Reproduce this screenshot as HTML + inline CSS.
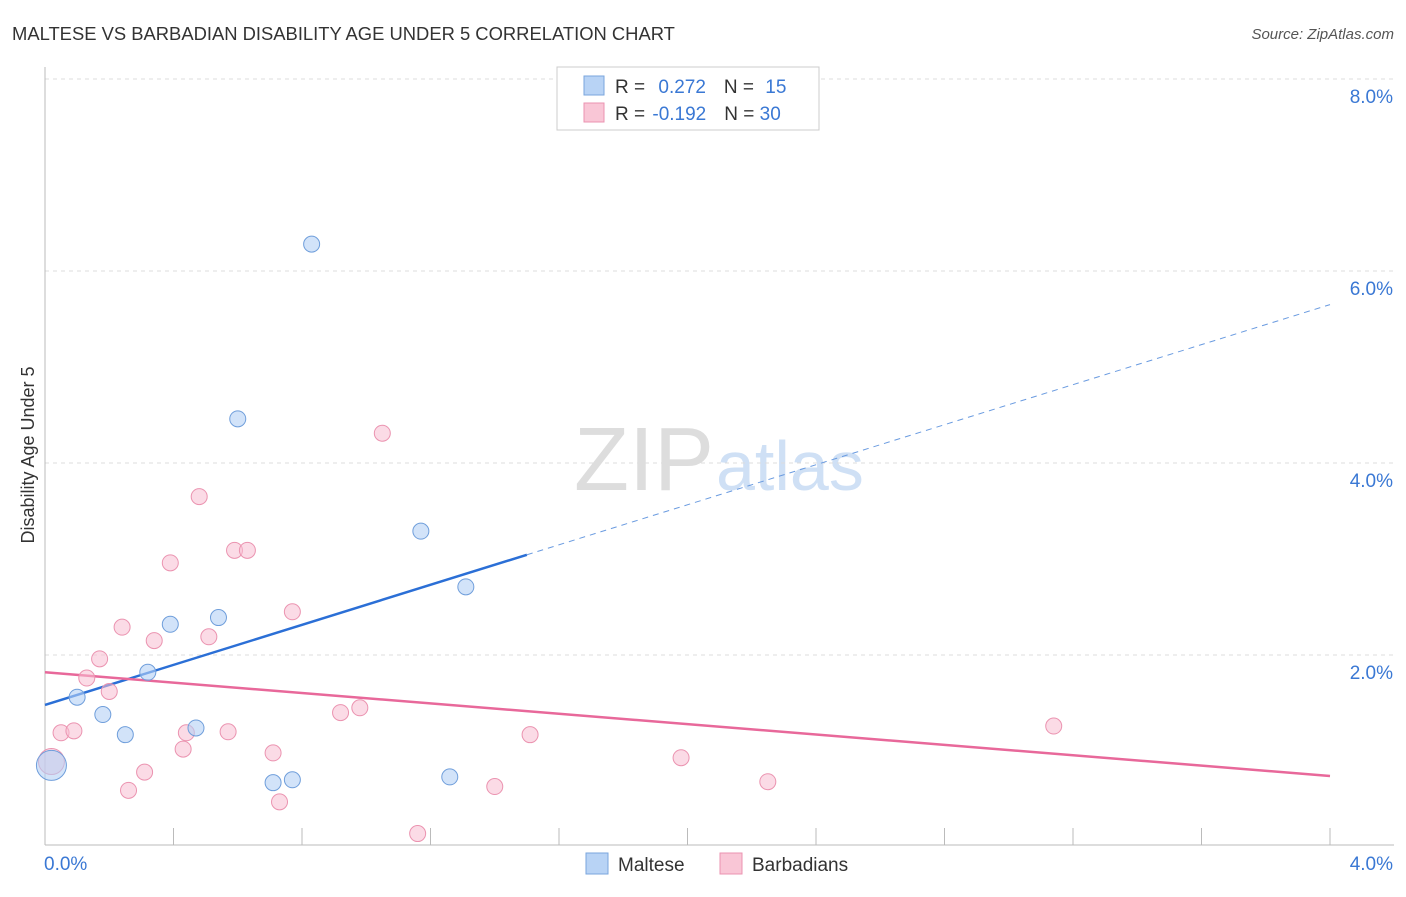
<!DOCTYPE html>
<html><head><meta charset="utf-8">
<style>
body{margin:0;background:#fff;font-family:"Liberation Sans",sans-serif;}
svg text{font-family:"Liberation Sans",sans-serif;}
</style></head>
<body>
<svg id="chart" width="1406" height="892" xmlns="http://www.w3.org/2000/svg">
<text x="12" y="40" font-size="18.4" fill="#333">MALTESE VS BARBADIAN DISABILITY AGE UNDER 5 CORRELATION CHART</text>
<text x="1394" y="39" font-size="15" fill="#555" text-anchor="end" font-style="italic">Source: ZipAtlas.com</text>
<text x="714" y="490" font-size="90" fill="#ddd" text-anchor="end" font-family="Liberation Serif">ZIP</text>
<text x="716" y="490" font-size="70" fill="#cfe0f5">atlas</text>
<g id="grid"></g>
<g id="axes"></g>
<g id="lines"></g>
<g id="points"></g>
<text x="34" y="455" font-size="18" fill="#333" text-anchor="middle" transform="rotate(-90 34 455)">Disability Age Under 5</text>
<g>
<rect x="557" y="67" width="262" height="63" fill="#fff" stroke="#ccc"/>
<rect x="584" y="76" width="20" height="19" fill="#b8d3f5" stroke="#7aa6dd"/>
<rect x="584" y="103" width="20" height="19" fill="#f9c6d6" stroke="#eb93b0"/>
<text x="615" y="93" font-size="19" fill="#333">R = <tspan fill="#3a78d4" dx="8">0.272</tspan><tspan dx="18" fill="#333">N = </tspan><tspan fill="#3a78d4" dx="6">15</tspan></text>
<text x="615" y="120" font-size="19" fill="#333">R = <tspan fill="#3a78d4" dx="2">-0.192</tspan><tspan dx="18" fill="#333">N = </tspan><tspan fill="#3a78d4">30</tspan></text>
</g>
<g>
<rect x="586" y="853" width="22" height="21" fill="#b8d3f5" stroke="#7aa6dd"/>
<text x="618" y="871" font-size="19" fill="#333">Maltese</text>
<rect x="720" y="853" width="22" height="21" fill="#f9c6d6" stroke="#eb93b0"/>
<text x="752" y="871" font-size="19" fill="#333">Barbadians</text>
</g>
</svg>
<script>
const yTicks=[2,4,6,8];
const yTickLabels=["2.0%","4.0%","6.0%","8.0%"];
const xTickLabels=["0.0%","4.0%"];
const malteseX=[0.83,0.60,1.17,1.31,0.54,0.39,0.32,0.10,0.18,0.25,0.47,0.02,0.71,0.77,1.26];
const malteseY=[6.28,4.46,3.29,2.71,2.39,2.32,1.82,1.56,1.38,1.17,1.24,0.85,0.67,0.70,0.73];
const barbX=[1.05,0.48,0.39,0.59,0.63,0.77,0.24,0.34,0.51,0.17,0.13,0.20,0.05,0.09,0.44,0.57,0.43,0.71,0.92,0.98,1.51,0.31,0.26,0.73,1.16,1.40,1.98,2.25,3.14,0.02];
const barbY=[4.31,3.65,2.96,3.09,3.09,2.45,2.29,2.15,2.19,1.96,1.76,1.62,1.19,1.21,1.19,1.20,1.02,0.98,1.40,1.45,1.17,0.78,0.59,0.47,0.14,0.63,0.93,0.68,1.26,0.89];
const blueFit=[0.0,1.48,4.0,5.65];
const pinkFit=[0.0,1.82,4.0,0.74];
const ns="http://www.w3.org/2000/svg";
const X=v=>45+v*321.25, Y=v=>847-v*96;
function mk(t,a,p){const e=document.createElementNS(ns,t);for(const k in a)e.setAttribute(k,a[k]);document.getElementById(p).appendChild(e);return e;}
yTicks.forEach((t,i)=>{
 const g=mk('line',{x1:45,x2:1394,y1:Y(t),y2:Y(t),stroke:'#ddd','stroke-dasharray':'4,4'},'grid');
 
 
 const tx=mk('text',{x:1393,y:Y(t)+24,'font-size':19,fill:'#3a78d4','text-anchor':'end'},'grid');
 tx.textContent=yTickLabels[i];
 
 
});
const ya=mk('line',{x1:45,x2:45,y1:67,y2:845,stroke:'#bbb'},'axes');


const xa=mk('line',{x1:45,x2:1394,y1:845,y2:845,stroke:'#bbb'},'axes');


for(let i=0;i<=10;i++){const tk=mk('line',{x1:X(i*0.4),x2:X(i*0.4),y1:828,y2:845,stroke:'#bbb'},'axes');
 
 }
[[0,44,'start'],[4,1393,'end']].forEach((d,i)=>{const t=mk('text',{x:d[1],y:870,'font-size':19,fill:'#3a78d4','text-anchor':d[2]},'axes');t.textContent=xTickLabels[i];
 
 });
const bAt=x=>blueFit[1]+(blueFit[3]-blueFit[1])*(x-blueFit[0])/(blueFit[2]-blueFit[0]);
const l1=mk('line',{x1:X(0),y1:Y(bAt(0)),x2:X(1.5),y2:Y(bAt(1.5)),stroke:'#2b6fd6','stroke-width':2.5},'lines');


const l2=mk('line',{x1:X(1.5),y1:Y(bAt(1.5)),x2:X(4),y2:Y(bAt(4)),stroke:'#6a9be0','stroke-width':1,'stroke-dasharray':'6,5'},'lines');


const l3=mk('line',{x1:X(pinkFit[0]),y1:Y(pinkFit[1]),x2:X(pinkFit[2]),y2:Y(pinkFit[3]),stroke:'#e8689a','stroke-width':2.5},'lines');


barbX.forEach((x,i)=>{const c=mk('circle',{cx:X(x),cy:Y(barbY[i]),r:i==barbX.length-1?13:8,fill:'rgba(248,190,210,0.55)',stroke:'#eb93b0','stroke-width':1},'points');
 
 });
malteseX.forEach((x,i)=>{const c=mk('circle',{cx:X(x),cy:Y(malteseY[i]),r:i==11?15:8,fill:'rgba(180,208,245,0.6)',stroke:'#6f9edb','stroke-width':1},'points');
 
 });
</script>
</body></html>
